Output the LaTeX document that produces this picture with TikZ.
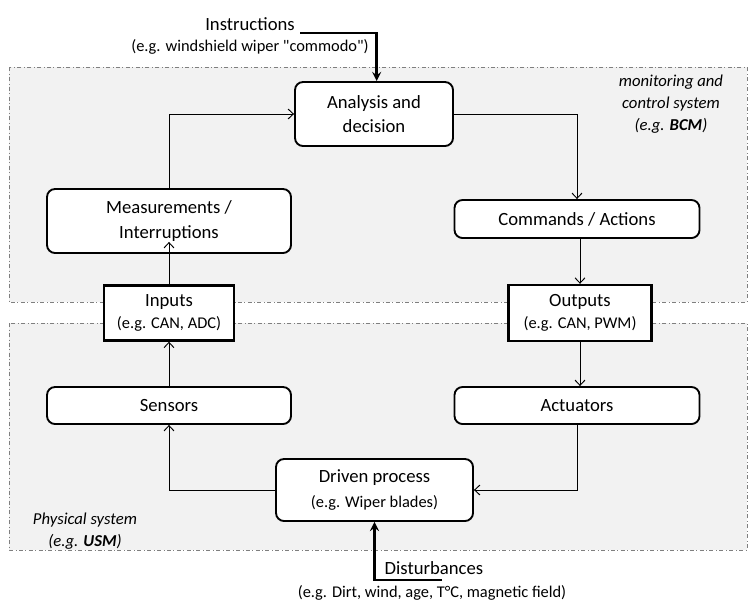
\documentclass[tikz,border=0pt]{standalone}
\usepackage{fontspec}
\setmainfont{Carlito}
\usepackage{tikz}
\usetikzlibrary{arrows,arrows.meta,positioning}
\definecolor{regionfill}{HTML}{F2F2F2}
\definecolor{regionline}{HTML}{7F7F7F}
\tikzstyle{region} = [draw=regionline, fill=regionfill, dash dot, line width=0.6pt]
\tikzstyle{block} = [rectangle, rounded corners=6pt, draw=black, fill=white,
line width=1.4pt, align=center, inner sep=0pt, font=\fontsize{14}{18.5}\selectfont]
\tikzstyle{port} = [rectangle, draw=black, fill=white, line width=1.8pt,
align=center, inner sep=0pt, font=\fontsize{14}{17}\selectfont]
\tikzstyle{arrow} = [line width=0.7pt,-{Straight Barb[length=4pt,width=7.5pt]}]
\tikzstyle{mainarrow} = [line width=2pt,->,>=stealth]
\tikzset{sysnote/.style={font=\fontsize{12.5}{16.5}\selectfont\itshape, align=center}}
\newcommand{\egline}[1]{{\fontsize{12.3}{14}\selectfont #1}}

\begin{document}
\begin{tikzpicture}[x=0.75pt,y=-0.75pt]
            \useasboundingbox (0,0) rectangle (754,611);
            \draw[region] (9,67) rectangle (747,302);
            \draw[region] (9,323) rectangle (747,550);
            \node[sysnote] (bcmnote) at (671,104) {monitoring and\\control system\\(e.g. \textbf{BCM})};
            \node[sysnote] (usmnote) at (85,531) {Physical system\\(e.g. \textbf{USM})};
            \node[block, minimum width=118.5pt, minimum height=48pt] (ana) at (374,114) {Analysis and\\decision};
            \node[block, minimum width=183pt, minimum height=48pt] (meas) at (169,221) {Measurements /\\Interruptions};
            \node[block, minimum width=183.75pt, minimum height=28.5pt] (cmd) at (577,219) {Commands / Actions};
            \node[port, minimum width=97.5pt, minimum height=41.25pt] (inp) at (169,313) {Inputs\\\egline{(e.g. CAN, ADC)}};
            \node[port, minimum width=107.25pt, minimum height=42pt] (outp) at (580,313) {Outputs\\\egline{(e.g. CAN, PWM)}};
            \node[block, minimum width=183pt, minimum height=27.75pt] (sens) at (169,405.5) {Sensors};
            \node[block, minimum width=183.75pt, minimum height=27.75pt] (act) at (577,405.5) {Actuators};
            \node[block, minimum width=147.75pt, minimum height=46.5pt, font=\fontsize{14}{19}\selectfont] (drv) at (374.5,490) {Driven process\\\egline{(e.g. Wiper blades)}};
            \node[font=\fontsize{14}{17}\selectfont] (instr) at (250,24) {Instructions};
            \node[font=\fontsize{12.3}{14}\selectfont] (instrnote) at (250,47) {(e.g. windshield wiper \textquotedbl commodo\textquotedbl)};
            \node[font=\fontsize{14}{17}\selectfont, anchor=west] (dist) at (380,568) {Disturbances};
            \node[font=\fontsize{12.3}{14}\selectfont] (distnote) at (432,593) {(e.g. Dirt, wind, age, T°C, magnetic field)};
            \coordinate (instrend) at (300,33);
            \coordinate (distend) at (442,580);
            \draw[mainarrow] (instrend) -| ([xshift=2pt]ana.north);
            \draw[mainarrow] (distend) -| (drv.south);
            \draw[arrow] (meas.north) |- (ana.west);
            \draw[arrow] (ana.east) -| (cmd.north);
            \draw[arrow] (cmd.south -| outp.north) -- (outp.north);
            \draw[arrow] (inp.north) -- ([yshift=9pt]meas.south);
            \draw[arrow] (outp.south) -- (outp.south |- act.north);
            \draw[arrow] (sens.north) -- (inp.south);
            \draw[arrow] (drv.west) -| (sens.south);
            \draw[arrow] (act.south) |- (drv.east);
        \end{tikzpicture}
\end{document}
